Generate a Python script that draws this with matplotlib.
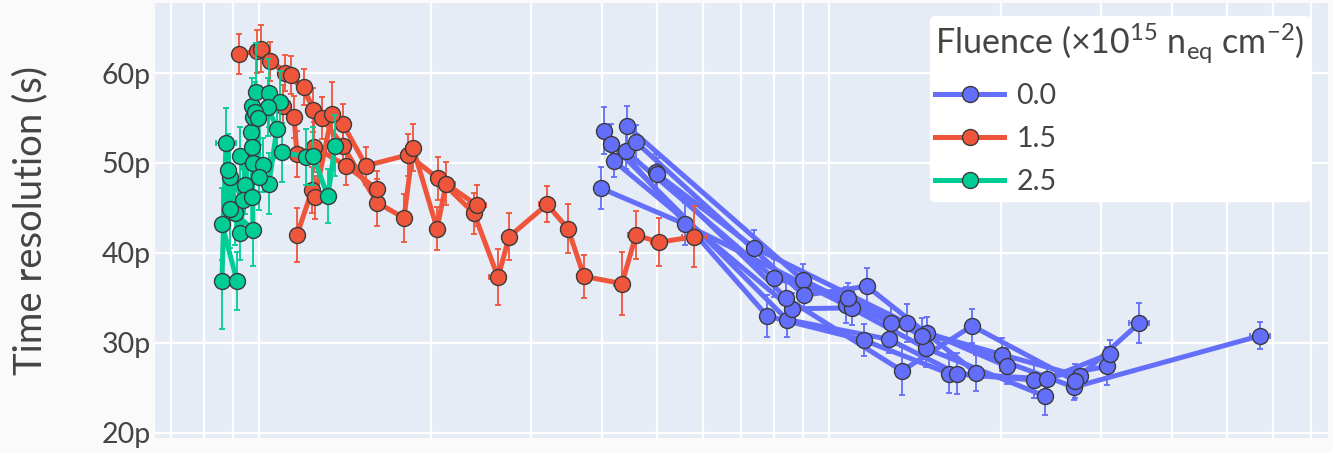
import matplotlib
matplotlib.use("Agg")
import matplotlib.pyplot as plt
from matplotlib.lines import Line2D
from matplotlib.ticker import FixedLocator, FuncFormatter, NullFormatter

plt.rcParams['font.family'] = ['Lato', 'DejaVu Sans']
plt.rcParams['mathtext.fontset'] = 'custom'
plt.rcParams['mathtext.rm'] = 'Lato'

# ---- data: one list per measurement run (time resolution in ps) ----
fluences = ["0.0", "1.5", "2.5"]
colors = ["#636EFA", "#EF553B", "#00CC96"]

blue_x = [
    [39.8, 55.9, 107.1, 148.0, 239.2],
    [40.3, 77.9, 115.2, 162.4, 228.8, 307.4],
    [41.5, 84.4, 127.5, 167.7, 241.2, 311.2],
    [42.0, 86.1, 109.7, 148.6, 269.0, 570.2],
    [44.2, 90.0, 128.5, 201.2, 275.6],
    [44.0, 80.1, 108.0, 145.6],
    [45.9, 90.4, 116.6, 181.1],
    [49.7, 84.1, 134.3, 178.2, 270.1, 349.9],
    [49.9, 73.9, 137.0, 205.3],
]
blue_y = [
    [47.2, 43.2, 34.2, 29.4, 24.1],
    [53.6, 33.0, 30.3, 26.6, 25.9, 27.4],
    [52.1, 32.6, 30.4, 26.6, 26.0, 28.8],
    [50.2, 33.8, 33.9, 31.1, 25.1, 30.8],
    [54.1, 37.0, 32.2, 28.7, 26.3],
    [51.3, 37.2, 35.0, 30.8],
    [52.3, 35.3, 36.3, 26.7],
    [49.0, 35.0, 26.9, 31.9, 25.8, 32.2],
    [48.8, 40.6, 32.2, 27.4],
]
blue_yerr = [
    [2.3, 2.3, 2.0, 2.1, 2.1],
    [2.6, 2.3, 1.8, 2.2, 2.0, 2.1],
    [2.2, 1.9, 1.5, 2.3, 1.6, 1.5],
    [1.8, 1.7, 1.9, 1.8, 1.4, 1.5],
    [2.2, 1.8, 2.0, 1.8, 1.3],
    [2.0, 2.1, 1.7, 2.0],
    [1.9, 1.6, 2.0, 2.0],
    [2.0, 2.1, 2.7, 1.9, 1.9, 2.2],
    [1.8, 2.0, 2.1, 2.0],
]
blue_xerr = [
    [1.0, 1.5, 3.0, 4.0, 6.0],
    [1.0, 2.0, 3.0, 4.5, 6.0, 8.0],
    [1.0, 2.0, 3.5, 4.5, 6.0, 8.0],
    [1.0, 2.0, 3.0, 4.0, 7.0, 23.0],
    [1.0, 2.5, 3.5, 5.0, 7.0],
    [1.0, 2.0, 3.0, 4.0],
    [1.0, 2.5, 3.0, 5.0],
    [1.0, 2.0, 3.5, 4.5, 7.0, 14.0],
    [1.0, 2.0, 3.5, 5.0],
]

red_x = [
    [9.22, 9.92, 11.11, 11.99, 12.44, 14.04, 15.41, 18.26, 20.61, 23.84,
     26.27, 27.46, 32.01, 34.84, 37.17, 43.33, 45.85, 50.32, 57.98],
    [10.08, 10.45, 11.38, 12.90, 14.04, 16.11, 17.96, 18.63, 20.53, 21.29, 24.13],
    [11.02, 11.52, 11.66, 12.49, 14.21, 16.11],
    [11.66, 12.39, 12.54, 13.43],
]
red_y = [
    [62.1, 62.4, 60.0, 58.4, 55.9, 54.3, 49.7, 50.9, 48.3, 44.4,
     37.3, 41.8, 45.4, 42.7, 37.4, 36.6, 42.0, 41.2, 41.8],
    [62.7, 61.3, 59.8, 55.0, 51.9, 45.6, 43.9, 51.7, 42.7, 47.7, 45.3],
    [56.3, 55.1, 51.0, 51.8, 49.7, 47.1],
    [42.0, 47.0, 46.2, 55.4],
]
red_yerr = [
    [2.2, 2.4, 2.0, 2.0, 2.4, 2.3, 2.1, 2.3, 2.4, 2.3,
     3.1, 2.6, 2.0, 2.7, 2.4, 3.5, 2.7, 2.7, 3.4],
    [2.6, 2.2, 2.1, 2.3, 2.5, 2.6, 2.7, 2.6, 2.4, 2.4, 2.3],
    [2.4, 2.3, 2.6, 2.8, 2.2, 2.0],
    [3.0, 2.6, 2.4, 3.6],
]
red_xerr = [
    [0.2, 0.2, 0.25, 0.3, 0.3, 0.4, 0.4, 0.5, 0.6, 0.7,
     0.9, 0.8, 1.0, 1.0, 1.1, 1.3, 1.4, 1.6, 2.8],
    [0.2, 0.2, 0.3, 0.3, 0.4, 0.4, 0.5, 0.5, 0.6, 0.8, 0.9],
    [0.3, 0.3, 0.3, 0.3, 0.4, 0.4],
    [0.3, 0.3, 0.3, 0.4],
]

green_x = [
    [8.61, 8.75, 9.08, 9.45, 9.72, 9.88, 10.41, 10.88],
    [9.15, 8.61, 8.89, 9.26, 9.68, 9.76, 10.37, 10.75, 10.41],
    [8.82, 9.37, 9.72, 9.26, 9.76, 10.16, 10.97, 12.09, 12.44, 13.21, 13.59],
    [8.89, 9.76, 9.72, 9.84, 9.96, 10.00],
]
green_y = [
    [36.9, 52.2, 44.4, 47.6, 56.3, 57.9, 57.8, 56.8],
    [36.9, 43.2, 48.4, 42.2, 53.4, 55.1, 56.2, 53.8, 47.7],
    [49.2, 45.9, 46.2, 50.8, 50.0, 49.8, 51.2, 50.7, 50.8, 46.3, 51.9],
    [44.9, 42.6, 51.8, 55.7, 55.0, 48.4],
]
green_yerr = [
    [5.4, 3.9, 3.5, 3.3, 3.2, 5.4, 3.8, 3.4],
    [3.2, 4.0, 3.6, 3.0, 3.3, 3.5, 3.2, 2.8, 3.4],
    [4.0, 3.4, 3.6, 3.2, 3.5, 3.0, 3.3, 3.1, 3.2, 3.0, 3.4],
    [4.3, 4.0, 3.5, 3.3, 3.0, 3.6],
]
green_xerr = [
    [0.25, 0.35, 0.2, 0.2, 0.2, 0.2, 0.2, 0.2],
    [0.2, 0.2, 0.2, 0.2, 0.2, 0.2, 0.2, 0.2, 0.3],
    [0.2, 0.2, 0.2, 0.2, 0.2, 0.2, 0.2, 0.3, 0.3, 0.35, 0.3],
    [0.2, 0.2, 0.2, 0.2, 0.2, 0.2],
]

groups = [
    (blue_x, blue_y, blue_yerr, blue_xerr),
    (red_x, red_y, red_yerr, red_xerr),
    (green_x, green_y, green_yerr, green_xerr),
]

# ---- figure ----
W, H = 1333, 453
fig = plt.figure(figsize=(W / 100, H / 100), dpi=100, facecolor="#fafafa")
ax = fig.add_axes([155 / W, 15 / H, (1328 - 155) / W, (438 - 3) / H])
ax.set_facecolor("#E5ECF6")

for k, ((xs, ys, yes, xes), col) in enumerate(zip(groups, colors)):
    base = 2 + k
    for x, y, ye, xe in zip(xs, ys, yes, xes):
        ax.errorbar(x, y, yerr=ye, xerr=xe, fmt="none", ecolor=col,
                    elinewidth=1.3, capsize=2.5, capthick=1.3, zorder=base)
        ax.plot(x, y, "-", color=col, lw=3.6, solid_joinstyle="round",
                zorder=base + 0.1)
    for x, y in zip(xs, ys):
        ax.plot(x, y, "o", color=col, ms=11.5, mec="#3a3a3a", mew=1.0,
                zorder=base + 0.2)

ax.set_xscale("log")
ax.set_xlim(6.57, 750.6)
ax.set_ylim(19.44, 67.78)

ax.xaxis.set_major_locator(FixedLocator([10, 100]))
ax.xaxis.set_minor_locator(FixedLocator(
    [7, 8, 9] + [m * 10 for m in range(2, 10)] + [m * 100 for m in range(2, 8)]))
ax.xaxis.set_major_formatter(NullFormatter())
ax.xaxis.set_minor_formatter(NullFormatter())
ax.set_yticks([20, 30, 40, 50, 60])
ax.yaxis.set_major_formatter(FuncFormatter(lambda v, p: f"{v:g}p"))

ax.grid(True, which="both", axis="x", color="white", lw=1.6, zorder=0)
ax.grid(True, which="major", axis="y", color="white", lw=1.6, zorder=0)
ax.set_axisbelow(True)
ax.tick_params(axis="both", which="both", length=0)
ax.tick_params(axis="y", labelsize=20.5, labelcolor="#444444", pad=3)
for s in ax.spines.values():
    s.set_visible(False)

ax.set_ylabel("Time resolution (s)", fontsize=27.5, color="#444444")
ax.yaxis.set_label_coords(-0.091, 0.50)

handles = [Line2D([0], [0], color=c, lw=3.6, marker="o", ms=11.5,
                  mec="#3a3a3a", mew=1.0) for c in colors]
leg = ax.legend(handles, fluences,
                title="Fluence (×10$^{\\mathregular{15}}$ n$_{\\mathregular{eq}}$ cm$^{\\mathregular{-2}}$)",
                loc="upper right", bbox_to_anchor=(0.985, 0.970), borderaxespad=0,
                fontsize=20.5, title_fontsize=24.5, alignment="left",
                handlelength=2.4, handletextpad=0.45, labelspacing=0.6,
                frameon=True, fancybox=True, framealpha=1.0, facecolor="white",
                edgecolor="white", borderpad=0.2)
for t in leg.get_texts():
    t.set_color("#444444")
leg.get_title().set_color("#444444")
leg.set_zorder(10)

fig.savefig("out.png", dpi=100, facecolor=fig.get_facecolor())
